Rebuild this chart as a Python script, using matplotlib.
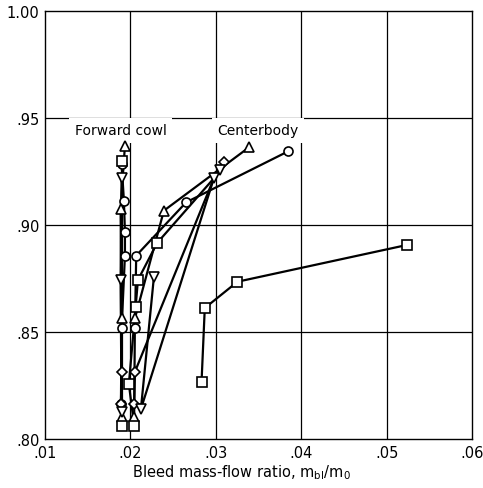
import matplotlib
matplotlib.use("Agg")
import matplotlib.pyplot as plt
from matplotlib.ticker import FixedLocator, FixedFormatter

plt.rcParams['font.family'] = ['DejaVu Sans Condensed', 'Liberation Sans Narrow', 'DejaVu Sans']

# ---- data ----
x_ticks = [0.01, 0.02, 0.03, 0.04, 0.05, 0.06]
x_tick_labels = [".01", ".02", ".03", ".04", ".05", ".06"]
y_ticks = [0.80, 0.85, 0.90, 0.95, 1.00]
y_tick_labels = [".80", ".85", ".90", ".95", "1.00"]

# Forward cowl group
fc_circle_x = [0.01889, 0.01897, 0.01936, 0.01936, 0.01924, 0.01897]
fc_circle_y = [0.8164, 0.8517, 0.8857, 0.8966, 0.9114, 0.9285]
fc_triup_x = [0.01897, 0.01897, 0.01885, 0.01936]
fc_triup_y = [0.8101, 0.8564, 0.9075, 0.9371]
fc_square_x = [0.01897, 0.01897]
fc_square_y = [0.8062, 0.9301]
fc_diamond_x = [0.01889, 0.01897]
fc_diamond_y = [0.8164, 0.8314]
fc_tridown_x = [0.01897, 0.01885, 0.01897]
fc_tridown_y = [0.8126, 0.8743, 0.9218]

# Centerbody group
cb_circle_x = [0.02053, 0.02068, 0.02653, 0.03846]
cb_circle_y = [0.8517, 0.8857, 0.9106, 0.9344]
cb_triup_x = [0.02044, 0.02053, 0.02392, 0.03389]
cb_triup_y = [0.8101, 0.8564, 0.9067, 0.9363]
cb_square_x = [0.02044, 0.01982, 0.02061, 0.02088, 0.02313, 0.02977]
cb_square_y = [0.8062, 0.8257, 0.8615, 0.8743, 0.8916, 0.9218]
cb_diamond_x = [0.02044, 0.02053, 0.02977, 0.03094]
cb_diamond_y = [0.8164, 0.8314, 0.9218, 0.9293]
cb_tridown_x = [0.02275, 0.02123, 0.02977, 0.03047]
cb_tridown_y = [0.8756, 0.8140, 0.9218, 0.9258]
cb_square2_x = [0.02833, 0.02871, 0.03254, 0.05242]
cb_square2_y = [0.8266, 0.8612, 0.8735, 0.8907]

fig = plt.figure(figsize=(4.83, 4.89), dpi=100)
ax = fig.add_axes([45/483, 1-440/489, (472-45)/483, (440-12)/489])

ax.set_xlim(0.01, 0.06)
ax.set_ylim(0.80, 1.00)

for v in [0.02, 0.03, 0.04, 0.05]:
    ax.axvline(v, color='black', lw=0.9, zorder=1)
for h in [0.85, 0.90, 0.95]:
    ax.axhline(h, color='black', lw=0.9, zorder=1)

def series(xs, ys, marker, skip=None, ms=6.5):
    ax.plot(xs, ys, color='black', lw=1.6, zorder=3, solid_joinstyle='round')
    idx = list(range(len(xs)))
    if skip is not None:
        idx = [i for i in idx if i not in skip]
    ax.plot([xs[i] for i in idx], [ys[i] for i in idx], linestyle='none',
            marker=marker, ms=ms, mfc='white', mec='black', mew=1.2, zorder=4)

series(fc_circle_x, fc_circle_y, 'o')
series(fc_triup_x, fc_triup_y, '^')
series(fc_square_x, fc_square_y, 's')
series(fc_diamond_x, fc_diamond_y, 'D', ms=5.2)
series(fc_tridown_x, fc_tridown_y, 'v')

series(cb_circle_x, cb_circle_y, 'o')
series(cb_triup_x, cb_triup_y, '^')
series(cb_square_x, cb_square_y, 's', skip=[5])
series(cb_diamond_x, cb_diamond_y, 'D', skip=[2], ms=5.2)
series(cb_tridown_x, cb_tridown_y, 'v')
series(cb_square2_x, cb_square2_y, 's')

ax.text(0.0135, 0.9442, "Forward cowl", fontsize=10, va='center', ha='left',
        zorder=2, bbox=dict(facecolor='white', edgecolor='none', pad=4))
ax.text(0.0302, 0.9442, "Centerbody", fontsize=10, va='center', ha='left',
        zorder=2, bbox=dict(facecolor='white', edgecolor='none', pad=4))

ax.xaxis.set_major_locator(FixedLocator(x_ticks))
ax.xaxis.set_major_formatter(FixedFormatter(x_tick_labels))
ax.yaxis.set_major_locator(FixedLocator(y_ticks))
ax.yaxis.set_major_formatter(FixedFormatter(y_tick_labels))
ax.tick_params(length=0, labelsize=10.5, pad=4)

ax.set_xlabel(r"Bleed mass-flow ratio, m$_{\mathrm{bl}}$/m$_{\mathrm{0}}$", fontsize=10.5, labelpad=3)
ax.xaxis.set_label_coords(0.46, -0.055)

for s in ax.spines.values():
    s.set_linewidth(1.0)

fig.savefig("out.png", dpi=100)
